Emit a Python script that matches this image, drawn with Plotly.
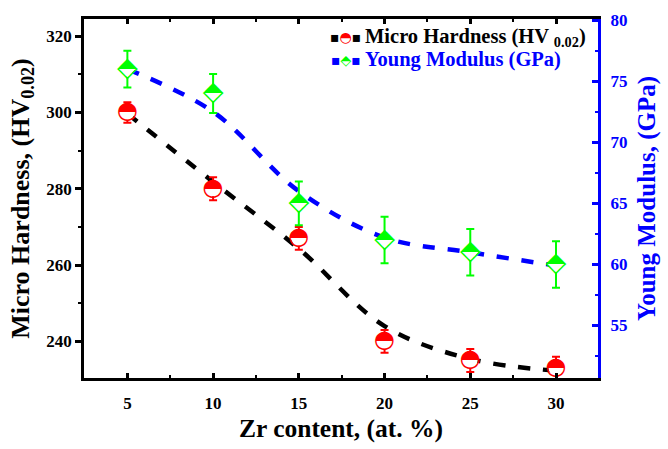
import plotly.graph_objects as go

# ---- data ----
zr = [5, 10, 15, 20, 25, 30]
hardness = [300, 280, 267, 240, 235, 233]
hardness_err = [2.7, 3, 3, 3, 3, 3]
hardness_trend = [299.7, 281.8, 264.3, 244.0, 235.4, 232.3]
modulus = [76, 74, 65, 62, 61, 60]
modulus_err = [1.5, 1.6, 1.8, 1.9, 1.9, 1.9]
modulus_trend = [76.0, 72.5, 66.0, 62.2, 61.0, 59.9]
x_ticks = [5, 10, 15, 20, 25, 30]
h_ticks = [240, 260, 280, 300, 320]
m_ticks = [55, 60, 65, 70, 75, 80]

SERIF = "Liberation Serif"
GLYPH = "DejaVu Sans"
RED = "#ff0000"
GREEN = "#00ff00"
BLUE = "#0000ff"
DASH = "12px,13px"

fig = go.Figure()

# trend lines
fig.add_trace(go.Scatter(x=zr, y=hardness_trend, mode="lines", yaxis="y",
                         line=dict(color="black", width=4.5, dash=DASH,
                                   shape="spline", smoothing=1),
                         hoverinfo="skip"))
fig.add_trace(go.Scatter(x=zr, y=modulus_trend, mode="lines", yaxis="y2",
                         line=dict(color=BLUE, width=4.5, dash=DASH,
                                   shape="spline", smoothing=1),
                         hoverinfo="skip"))

# hardness points with error bars (white disc hides the bar inside the marker)
fig.add_trace(go.Scatter(x=zr, y=hardness, mode="markers", yaxis="y",
                         marker=dict(symbol="circle", size=15, color="white",
                                     line=dict(width=0)),
                         error_y=dict(type="data", array=hardness_err, color=RED,
                                      thickness=2, width=4)))
fig.add_trace(go.Scatter(x=zr, y=hardness, mode="text", yaxis="y",
                         text=["◓"] * len(zr), textposition="middle center",
                         textfont=dict(family=GLYPH, size=24, color=RED),
                         hoverinfo="skip"))

# modulus points with error bars
fig.add_trace(go.Scatter(x=zr, y=modulus, mode="markers", yaxis="y2",
                         marker=dict(symbol="diamond", size=13, color="white",
                                     line=dict(width=0)),
                         error_y=dict(type="data", array=modulus_err, color=GREEN,
                                      thickness=2, width=4)))
fig.add_trace(go.Scatter(x=zr, y=modulus, mode="text", yaxis="y2",
                         text=["⬘"] * len(zr), textposition="middle center",
                         textfont=dict(family=GLYPH, size=27, color=GREEN),
                         hoverinfo="skip"))

PL, PR, PT, PB = 84, 602, 11, 388
W, H = 668, 449

def px(xp):
    return (xp - PL) / (PR - PL)

def py(yp):
    return (PB - yp) / (PB - PT)

annotations = [
    dict(x=px(348), y=py(30), xref="paper", yref="paper", showarrow=False,
         xanchor="center", yanchor="middle",
         text='<span style="color:#000000">▪</span><span style="color:#ff0000">◓</span><span style="color:#000000">▪</span>',
         font=dict(family=GLYPH, size=14)),
    dict(x=px(365), y=py(30), xref="paper", yref="paper", showarrow=False,
         xanchor="left", yanchor="middle",
         text="Micro Hardness (HV <sub>0.02</sub>)",
         font=dict(family=SERIF, size=20.5, color="black", weight="bold")),
    dict(x=px(348), y=py(54), xref="paper", yref="paper", showarrow=False,
         xanchor="center", yanchor="middle",
         text='<span style="color:#0000ff">▪</span><span style="color:#00ff00">⬘</span><span style="color:#0000ff">▪</span>',
         font=dict(family=GLYPH, size=14)),
    dict(x=px(365), y=py(54), xref="paper", yref="paper", showarrow=False,
         xanchor="left", yanchor="middle",
         text="Young Modulus (GPa)",
         font=dict(family=SERIF, size=20.5, color=BLUE, weight="bold")),
]

fig.update_layout(
    width=W, height=H,
    margin=dict(l=PL, r=W - PR, t=PT, b=H - PB),
    paper_bgcolor="white", plot_bgcolor="white",
    showlegend=False,
    font=dict(family=SERIF, size=17, color="black", weight="bold"),
    annotations=annotations,
    xaxis=dict(
        range=[2.47, 32.45], tickvals=x_ticks, ticktext=[str(v) for v in x_ticks],
        ticks="inside", ticklen=5, tickwidth=2.5, tickcolor="black",
        showline=True, linewidth=2.5, linecolor="black", mirror="ticks",
        showgrid=False, zeroline=False, ticklabelstandoff=8,
        tickfont=dict(family=SERIF, size=17, color="black", weight="bold"),
        minor=dict(ticks="inside", ticklen=3, tickwidth=2, tickcolor="black",
                   tick0=2.5, dtick=5, showgrid=False),
        title=dict(text="Zr content, (at. %)", standoff=7,
                   font=dict(family=SERIF, size=25.5, color="black", weight="bold")),
    ),
    yaxis=dict(
        range=[230.4, 324.5], tickvals=h_ticks, ticktext=[str(v) for v in h_ticks],
        ticks="outside", ticklen=6, tickwidth=2.5, tickcolor="black",
        showline=True, linewidth=2.5, linecolor="black",
        showgrid=False, zeroline=False,
        tickfont=dict(family=SERIF, size=17, color="black", weight="bold"),
        minor=dict(ticks="outside", ticklen=3, tickwidth=2, tickcolor="black",
                   tick0=250, dtick=20, showgrid=False),
        title=dict(text="Micro Hardness, (HV<sub>0.02</sub>)", standoff=10,
                   font=dict(family=SERIF, size=26, color="black", weight="bold")),
    ),
    yaxis2=dict(
        overlaying="y", side="right",
        range=[50.7, 80.1], tickvals=m_ticks, ticktext=[str(v) for v in m_ticks],
        ticks="inside", ticklen=6, tickwidth=2.5, tickcolor=BLUE,
        showline=True, linewidth=3, linecolor=BLUE,
        showgrid=False, zeroline=False, ticklabelstandoff=6,
        tickfont=dict(family=SERIF, size=17, color=BLUE, weight="bold"),
        minor=dict(ticks="inside", ticklen=3, tickwidth=2, tickcolor=BLUE,
                   tick0=52.5, dtick=5, showgrid=False),
        title=dict(text="Young Modulus, (GPa)", standoff=12,
                   font=dict(family=SERIF, size=25, color=BLUE, weight="bold")),
    ),
)

fig.write_html("out.html")
